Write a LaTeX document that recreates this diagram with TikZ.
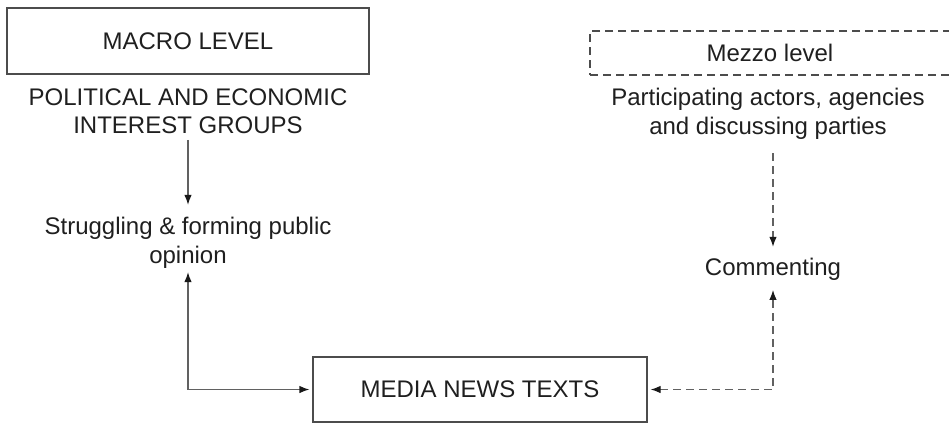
\documentclass[tikz,border=0pt]{standalone}
\usepackage{fontspec}
\setmainfont{Liberation Sans}
\usetikzlibrary{arrows.meta}
\begin{document}
\begin{tikzpicture}[x=1pt,y=1pt,
  every node/.style={font=\fontsize{24}{28.5}\selectfont, text=black!88},
  box/.style={draw=black!70, line width=1.2pt, inner sep=0pt},
  txt/.style={align=center, inner sep=0pt},
  conn/.style={draw=black!62, line width=1.2pt},
  dconn/.style={conn, dash pattern=on 8pt off 5pt},
  >={Latex[length=10pt,width=7.5pt,color=black!90]}
]
\useasboundingbox (0,0) rectangle (949,-423);
\node[box, minimum width=362, minimum height=66] (macro) at (188,-41) {MACRO LEVEL};
\node[txt] (polit) at (188,-111) {POLITICAL AND ECONOMIC\\INTEREST GROUPS};
\node[txt] (struggle) at (188,-243) {Struggling \& forming public\\opinion};
\node[box, dash pattern=on 8pt off 5pt, minimum width=360, minimum height=44] (mezzo) at (770,-53) {Mezzo level};
\node[txt] (part) at (768,-113.6) {Participating actors, agencies\\and discussing parties};
\node[txt] (comm) at (773,-269.6) {Commenting};
\node[box, minimum width=334, minimum height=65] (media) at (480,-389.5) {MEDIA NEWS TEXTS};

\draw[conn, ->, shorten <=6pt, shorten >=12.5pt] (polit.south) -- (struggle.north);
\draw[conn, <->, shorten <=3.5pt, shorten >=3pt] (struggle.south) |- (media.west);
\draw[dconn, ->, shorten <=14pt, shorten >=11.4pt] (part.south -| comm.north) -- (comm.north);
\draw[dconn, <->, shorten <=3pt, shorten >=9pt] (media.east) -| (comm.south);
\end{tikzpicture}
\end{document}
